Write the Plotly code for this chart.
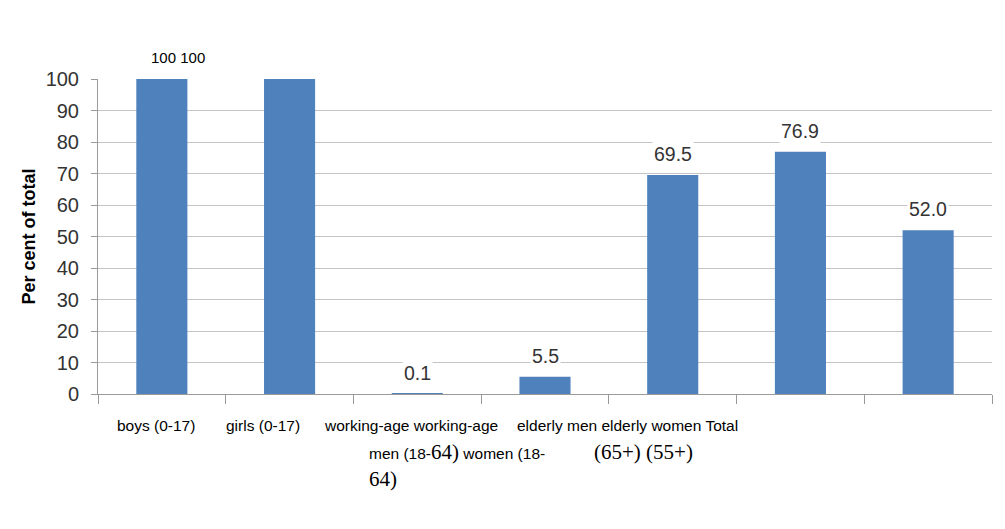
import plotly.graph_objects as go

# Share of each group (per cent of total)
categories = [
    "boys (0-17)",
    "girls (0-17)",
    "working-age men (18-64)",
    "working-age women (18-64)",
    "elderly men (65+)",
    "elderly women (55+)",
    "Total",
]
values = [100, 100, 0.1, 5.5, 69.5, 76.9, 52.0]
y_ticks = [0, 10, 20, 30, 40, 50, 60, 70, 80, 90, 100]

# Category text as it is laid out under the axis (three rows of fragments)
row1_text = ["boys (0-17)", "girls (0-17)", "working-age working-age",
             "elderly men elderly women Total"]
row2_text = ["men (18-<span style='font-family:Liberation Serif;font-size:21px'>64)</span> women (18-",
             "<span style='font-family:Liberation Serif;font-size:21px'>(65+) (55+)</span>"]
row3_text = ["<span style='font-family:Liberation Serif;font-size:21px'>64)</span>"]

BAR = "#4F81BD"
SANS = "Liberation Sans, Arial, sans-serif"

fig = go.Figure(
    go.Bar(
        x=categories,
        y=values,
        marker=dict(color=BAR, line=dict(width=0)),
        hoverinfo="x+y",
    )
)

L, R, T, B = 98, 13, 79, 135
W, H = 1005, 529
plot_w = W - L - R


def px_x(px):
    """Horizontal pixel position -> paper fraction."""
    return (px - L) / plot_w


annotations = []

# Value labels with a white box over the gridlines
for c, v in zip(categories[2:], values[2:]):
    annotations.append(dict(
        x=c, y=v, xref="x", yref="y", text=f"{v:.1f}", showarrow=False,
        yshift=21, bgcolor="white", borderpad=1,
        font=dict(family=SANS, size=19.5, color="#333333"),
    ))

# The two full bars share one label above the plot
annotations.append(dict(
    x=px_x(178), y=1, xref="paper", yref="paper",
    text=f"{values[0]:g} {values[1]:g}", showarrow=False,
    xanchor="center", yanchor="middle", yshift=22,
    font=dict(family=SANS, size=15, color="#000000"),
))

# Category text rows under the axis
row1_x = [115, 224, 322, 515]
row2_x = [367, 592]
row3_x = [367]
for texts, xs, ypix in ((row1_text, row1_x, 425), (row2_text, row2_x, 452),
                        (row3_text, row3_x, 479)):
    for t, xp in zip(texts, xs):
        annotations.append(dict(
            x=px_x(xp), y=0, xref="paper", yref="paper", text=t,
            showarrow=False, xanchor="left", yanchor="middle",
            yshift=-(ypix - (H - B)),
            font=dict(family=SANS, size=15.5, color="#000000"),
        ))

# Axis title
annotations.append(dict(
    x=px_x(28), y=0.5, xref="paper", yref="paper", text="<b>Per cent of total</b>",
    textangle=-90, showarrow=False, xanchor="center", yanchor="middle",
    font=dict(family=SANS, size=18, color="#000000"),
))

fig.update_layout(
    width=W, height=H,
    margin=dict(l=L, r=R, t=T, b=B, pad=0),
    paper_bgcolor="white", plot_bgcolor="white",
    bargap=0.6,
    showlegend=False,
    annotations=annotations,
    xaxis=dict(
        showticklabels=False, showgrid=False, zeroline=False,
        showline=True, linecolor="#9a9a9a", linewidth=1,
        ticks="outside", tickson="boundaries", ticklen=9,
        tickcolor="#9a9a9a", tickwidth=1,
    ),
    yaxis=dict(
        range=[0, 100], tickvals=y_ticks, ticktext=[str(t) for t in y_ticks],
        showgrid=True, gridcolor="#c4c4c4", gridwidth=1, zeroline=False,
        showline=True, linecolor="#9a9a9a", linewidth=1,
        ticks="outside", ticklen=6, tickcolor="#9a9a9a",
        ticklabelstandoff=8,
        tickfont=dict(family=SANS, size=20, color="#333333"),
    ),
)

fig.write_html("out.html")
